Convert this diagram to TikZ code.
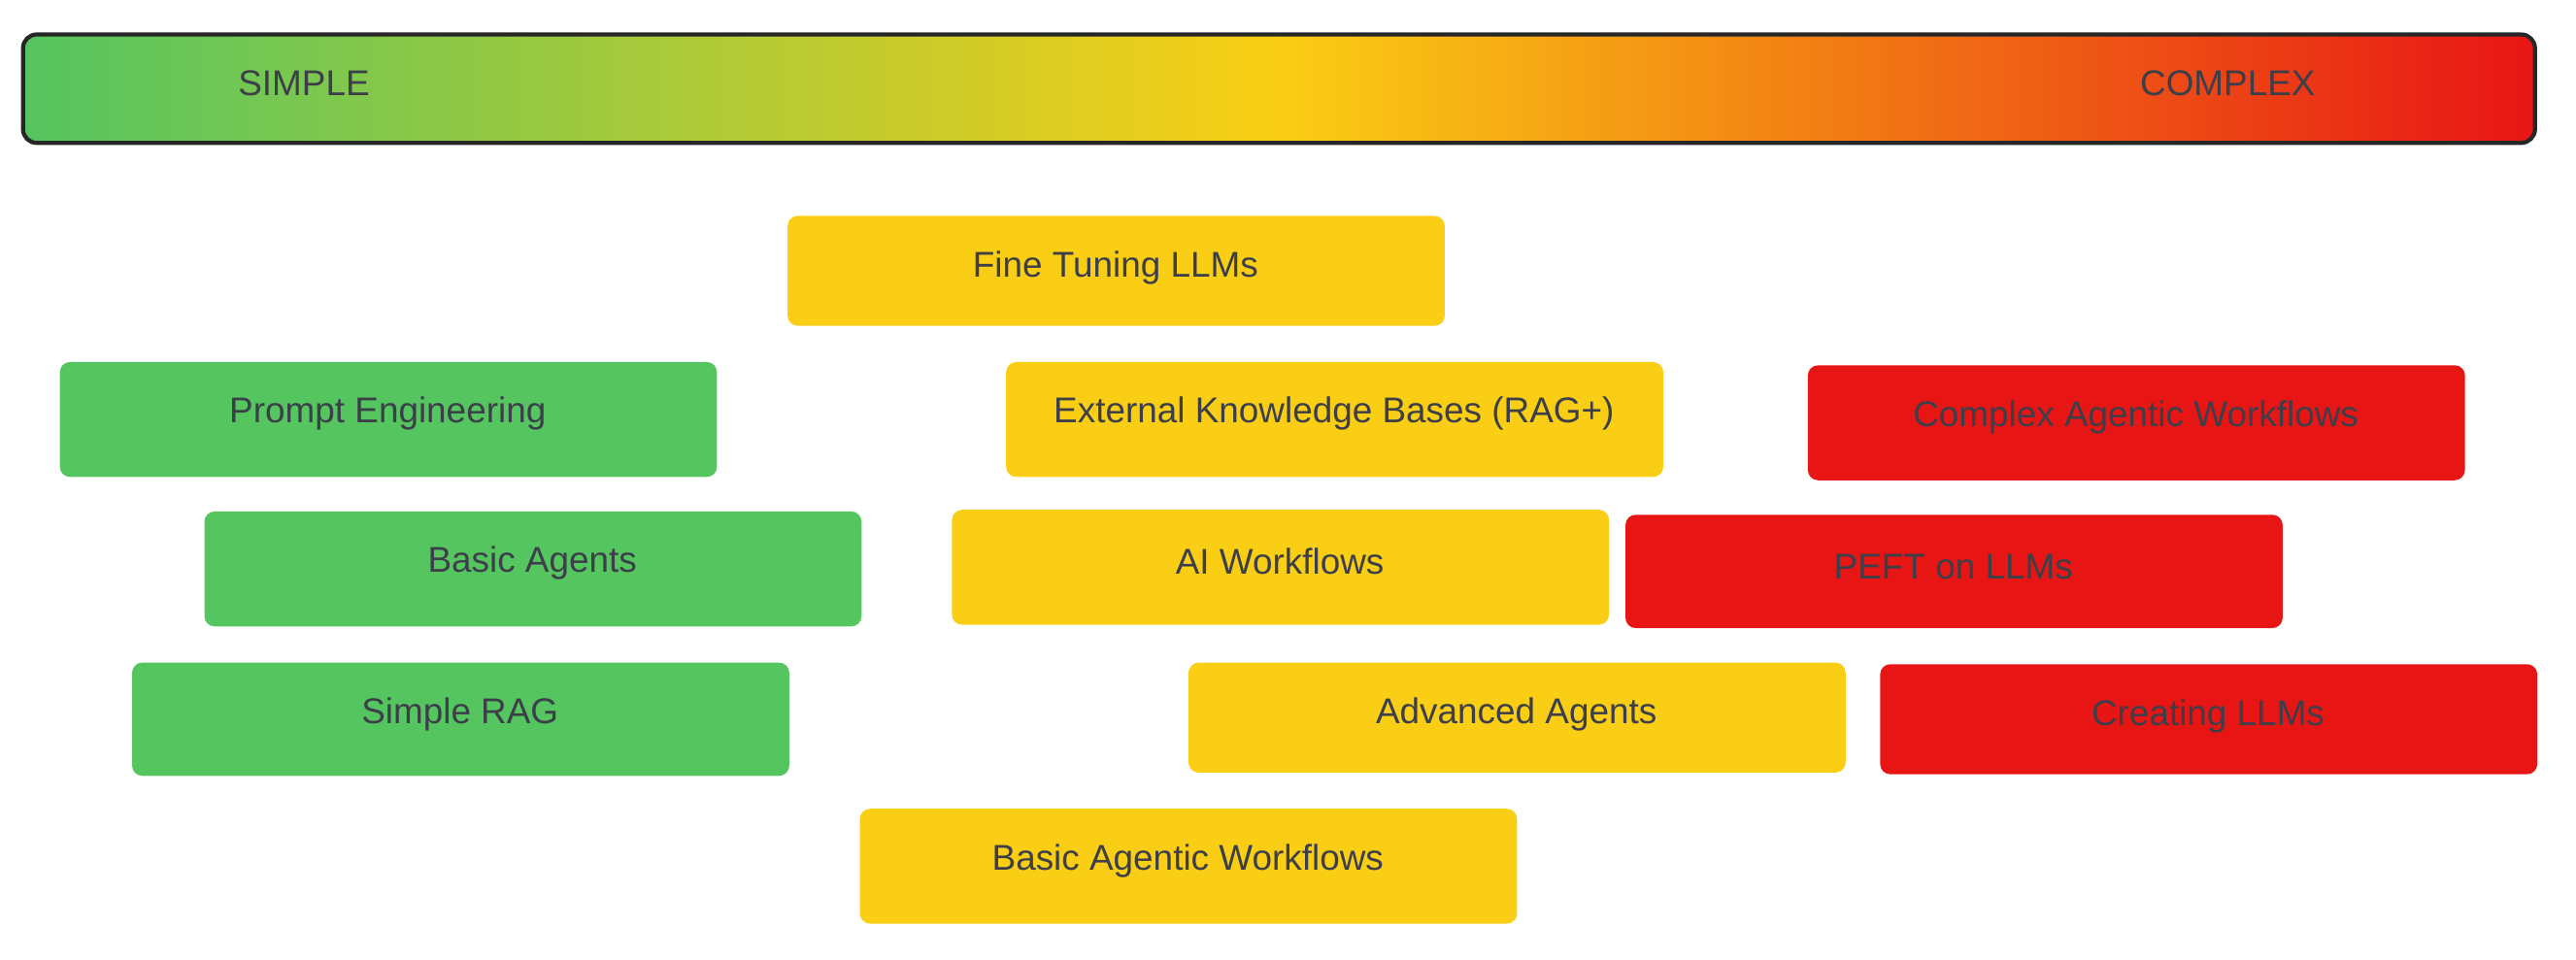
\documentclass[tikz,border=0pt]{standalone}
\usepackage{fontspec}
\setmainfont{Liberation Sans}
\definecolor{gr}{HTML}{55C560}
\definecolor{ye}{HTML}{FACE14}
\definecolor{re}{HTML}{E81515}
\definecolor{tx}{HTML}{3C3F4A}
\begin{document}
\begin{tikzpicture}[x=0.01692cm,y=-0.01692cm,
  box/.style={rounded corners=3pt,minimum width=400*0.01692cm,minimum height=70*0.01692cm,inner sep=0pt},
  lbl/.style={text=tx,font=\fontsize{10.5}{12}\selectfont,inner sep=0pt}]
\useasboundingbox (0,0) rectangle (1568,584);
\shade[rounded corners=4pt,left color=gr,right color=re,middle color=ye] (14,21) rectangle (1543,87);
\draw[line width=1.2pt,color=black!85,rounded corners=4pt] (14,21) rectangle (1543,87);
\node[lbl] (s) at (185,51) {SIMPLE};
\node[lbl] (c) at (1356,51) {COMPLEX};
\foreach \n/\x/\y/\h/\c/\t in {
 ft/479/131/67/ye/Fine Tuning LLMs,
 pe/36/220/70/gr/Prompt Engineering,
 ek/612/220/70/ye/External Knowledge Bases (RAG+),
 ca/1100/222/70/re/Complex Agentic Workflows,
 ba/124/311/70/gr/Basic Agents,
 aw/579/310/70/ye/AI Workflows,
 pf/989/313/69/re/PEFT on LLMs,
 sr/80/403/69/gr/Simple RAG,
 aa/723/403/67/ye/Advanced Agents,
 cl/1144/404/67/re/Creating LLMs,
 bw/523/492/70/ye/Basic Agentic Workflows}{
 \node[box,fill=\c,anchor=north west,minimum height=\h*0.01692cm] (\n) at (\x,\y) {};
 \node[lbl] (\n t) at (\x+200,\y+32) {\t};
}
\end{tikzpicture}
\end{document}
